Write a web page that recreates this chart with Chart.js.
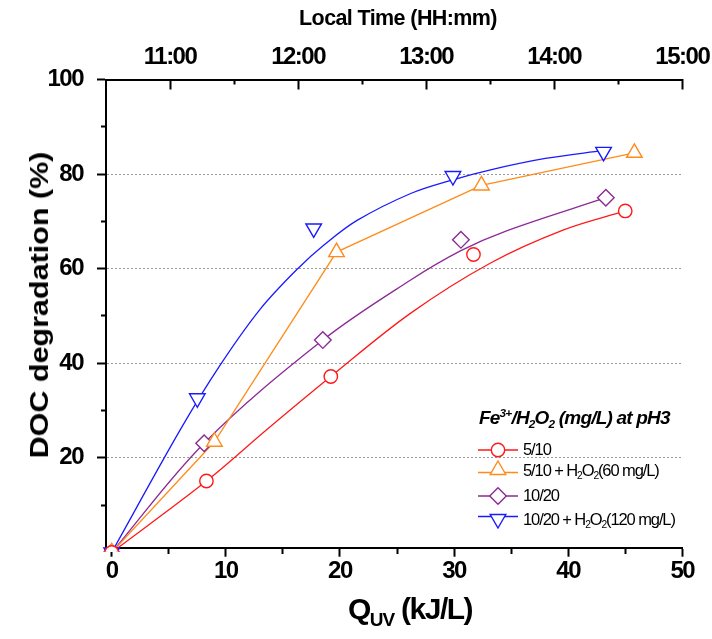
<!DOCTYPE html>
<html>
<head>
<meta charset="utf-8">
<script src="https://cdn.jsdelivr.net/npm/chart.js@4.4.1/dist/chart.umd.min.js"></script>
<style>
html,body{margin:0;padding:0;background:#fff;}
#wrap{position:relative;width:712px;height:639px;overflow:hidden;}
#c{position:absolute;left:0;top:0;}
.f{font-family:'Liberation Sans',Arial,sans-serif;color:#000;}
#ttitle{position:absolute;left:248px;width:300px;top:6px;text-align:center;font-size:21.5px;font-weight:bold;line-height:24px;white-space:nowrap;letter-spacing:-0.6px;}
#ytitle{position:absolute;left:38.5px;top:305px;transform:translate(-50%,-50%) rotate(-90deg) scaleY(0.87);font-size:30.5px;font-weight:bold;line-height:1;white-space:nowrap;}
#xtitle{position:absolute;left:300px;width:220px;top:589px;text-align:center;font-size:30px;font-weight:bold;line-height:40px;white-space:nowrap;letter-spacing:-1.5px;}
#xtitle sub{font-size:19px;vertical-align:-7px;line-height:0;letter-spacing:-1px;}
#legend{position:absolute;left:0;top:0;}
#ltitle{position:absolute;left:479px;top:406px;font-size:19px;font-weight:bold;font-style:italic;white-space:nowrap;line-height:24px;letter-spacing:-0.8px;}
#ltitle sup,#ltitle sub,.row sub{font-size:0.62em;line-height:0;}
#ltitle sup{vertical-align:7px;}
#ltitle sub{vertical-align:-4px;}
.row{position:absolute;left:476px;height:20px;display:flex;align-items:center;font-size:16.5px;white-space:nowrap;letter-spacing:-1.1px;}
.row svg{flex:none;margin-right:3px;}
.row sub{vertical-align:-3px;}
</style>
</head>
<body>
<div id="wrap">
<canvas id="c" width="712" height="639"></canvas>
<div id="ttitle" class="f">Local Time (HH:mm)</div>
<div id="ytitle" class="f">DOC degradation (%)</div>
<div id="xtitle" class="f">Q<sub>UV</sub> (kJ/L)</div>
<div id="legend" class="f"></div>
</div>
<script>
// ---- data ----
const seriesNames = ['5/10', '5/10 + H2O2(60 mg/L)', '10/20', '10/20 + H2O2(120 mg/L)'];
const qUv_5_10 = [0, 8.3, 19.2, 31.7, 45.0];
const doc_5_10 = [0, 15.1, 37.2, 63.0, 72.2];
const qUv_5_10_h2o2 = [0, 9.0, 19.7, 32.4, 45.8];
const doc_5_10_h2o2 = [0, 23.4, 63.5, 77.6, 84.5];
const qUv_10_20 = [0, 8.1, 18.5, 30.6, 43.3];
const doc_10_20 = [0, 23.1, 44.9, 66.1, 75.0];
const qUv_10_20_h2o2 = [0, 7.5, 17.7, 29.9, 43.1];
const doc_10_20_h2o2 = [0, 32.6, 68.5, 79.6, 84.7];
// smooth curves drawn through each series
const curveQ_5_10 = [0, 8.3, 13.6, 19.2, 26.2, 33.2, 39.6, 45.0];
const curveDoc_5_10 = [0, 15.1, 26.0, 37.2, 50.6, 61.2, 68.2, 72.2];
const curveQ_10_20 = [0, 8.1, 18.5, 26.2, 30.6, 34.6, 43.3];
const curveDoc_10_20 = [0, 23.1, 44.9, 57.6, 63.8, 68.0, 75.0];
const curveQ_10_20_h2o2 = [0, 6.0, 9.5, 13.0, 16.3, 18.6, 21.5, 26.2, 29.9, 33.2, 38.0, 43.1];
const curveDoc_10_20_h2o2 = [0, 25.9, 39.6, 51.4, 60.0, 65.0, 70.2, 75.9, 78.8, 80.9, 83.3, 85.0];

// ---- axis ticks ----
const xTicks = [0, 5, 10, 15, 20, 25, 30, 35, 40, 45, 50];
const xLabelTicks = [0, 10, 20, 30, 40, 50];
const yTicks = [10, 20, 30, 40, 50, 60, 70, 80, 90, 100];
const yLabelTicks = [20, 40, 60, 80, 100];
const yGridTicks = [20, 40, 60, 80];
const timeTicks = [11, 11.5, 12, 12.5, 13, 13.5, 14, 14.5, 15];
const timeLabelTicks = [11, 12, 13, 14, 15];

const colors = ['#ff1a1a', '#ff8c1a', '#8c2a96', '#1a1aff'];
const FONT = "'Liberation Sans',Arial,sans-serif";

const zip = (xs, ys) => xs.map((x, i) => ({x: x, y: ys[i]}));
const clip = {left: 12, top: 12, right: 12, bottom: 4};
const marker = (name, data, i, style, r, rot) => ({label: name, data, borderColor: colors[i], backgroundColor: '#fff',
  pointStyle: style, pointRadius: r, pointRotation: rot || 0, pointBorderWidth: 1.4, showLine: false, clip});
const curve = (name, data, i) => ({label: name, data, borderColor: colors[i], pointRadius: 0, borderWidth: 1.3,
  tension: 0.35, clip});

const datasets = [
  marker(seriesNames[0], zip(qUv_5_10, doc_5_10), 0, 'circle', 6.7),
  marker(seriesNames[1], zip(qUv_5_10_h2o2, doc_5_10_h2o2), 1, 'triangle', 9),
  marker(seriesNames[2], zip(qUv_10_20, doc_10_20), 2, 'rectRot', 8.3),
  marker(seriesNames[3], zip(qUv_10_20_h2o2, doc_10_20_h2o2), 3, 'triangle', 9, 180),
  curve(seriesNames[0], zip(curveQ_5_10, curveDoc_5_10), 0),
  {label: seriesNames[1], data: zip(qUv_5_10_h2o2, doc_5_10_h2o2), borderColor: colors[1], pointRadius: 0,
   borderWidth: 1.3, tension: 0, clip},
  curve(seriesNames[2], zip(curveQ_10_20, curveDoc_10_20), 2),
  curve(seriesNames[3], zip(curveQ_10_20_h2o2, curveDoc_10_20_h2o2), 3)
];

const hm = v => { const h = Math.floor(v); const m = Math.round((v - h) * 60); return h + ':' + String(m).padStart(2, '0'); };
const tickFont = {family: FONT, size: 24, weight: 'bold'};
const noPadH = s => { s.paddingLeft = 0; s.paddingRight = 0; };

const condense = {
  id: 'condense',
  beforeDraw: chart => { chart.ctx.letterSpacing = '-1.5px'; },
  afterDraw: chart => { chart.ctx.letterSpacing = '0px'; }
};

new Chart(document.getElementById('c'), {
  type: 'line',
  data: {datasets},
  plugins: [condense],
  options: {
    responsive: false, animation: false, devicePixelRatio: 1,
    layout: {padding: {left: 0, right: 29.7, top: 0, bottom: 0}},
    plugins: {legend: {display: false}, tooltip: {enabled: false}},
    scales: {
      x: {
        type: 'linear', position: 'bottom', min: -0.5, max: 50,
        afterBuildTicks: s => { s.ticks = xTicks.map(v => ({value: v})); },
        afterFit: s => { s.height = 91.3; noPadH(s); },
        ticks: {autoSkip: false, maxRotation: 0, padding: 0, color: '#000', font: tickFont,
                callback: v => xLabelTicks.includes(v) ? String(v) : ''},
        grid: {drawOnChartArea: false, tickLength: 9, tickWidth: 2, tickColor: '#000',
               tickBorderDash: c => (c.tick && xLabelTicks.includes(c.tick.value)) ? [] : [5, 100]},
        border: {display: true, color: '#000', width: 2}
      },
      x2: {
        type: 'linear', position: 'top', min: 10.5, max: 15,
        afterBuildTicks: s => { s.ticks = timeTicks.map(v => ({value: v})); },
        afterFit: s => { s.height = 79.5; noPadH(s); },
        ticks: {autoSkip: false, maxRotation: 0, padding: 18, color: '#000', font: tickFont,
                callback: v => timeLabelTicks.includes(v) ? hm(v) : ''},
        grid: {drawOnChartArea: false, tickLength: -10, tickWidth: 2, tickColor: '#000',
               tickBorderDash: c => (c.tick && timeLabelTicks.includes(c.tick.value)) ? [] : [0, 5, 5, 100]},
        border: {display: true, color: '#000', width: 2}
      },
      y: {
        type: 'linear', position: 'left', min: 1, max: 100,
        afterBuildTicks: s => { s.ticks = yTicks.map(v => ({value: v})); },
        afterFit: s => { s.width = 106; s.paddingTop = 0; s.paddingBottom = 0; },
        ticks: {autoSkip: false, padding: 14, color: '#000', font: tickFont,
                callback: v => yLabelTicks.includes(v) ? String(v) : ''},
        grid: {drawOnChartArea: true, lineWidth: 1,
               color: c => (c.tick && yGridTicks.includes(c.tick.value)) ? '#9a9a9a' : 'rgba(0,0,0,0)',
               tickLength: 9, tickWidth: 2, tickColor: '#000',
               tickBorderDash: c => (c.tick && yLabelTicks.includes(c.tick.value)) ? [] : [0, 4, 5, 100]},
        border: {display: true, color: '#000', width: 2, dash: [2, 2]}
      }
    }
  }
});

// ---- legend (HTML, with sub/superscripts) ----
const legendRows = [
  {name: '5/10', y: 449.5},
  {name: '5/10 + H<sub>2</sub>O<sub>2</sub>(60 mg/L)', y: 470},
  {name: '10/20', y: 495.5},
  {name: '10/20 + H<sub>2</sub>O<sub>2</sub>(120 mg/L)', y: 519}
];
function markerSvg(i) {
  const c = colors[i];
  let m = '';
  if (i === 0) m = `<circle cx="22" cy="10" r="6.7" fill="#fff" stroke="${c}" stroke-width="1.4"/>`;
  if (i === 1) m = `<polygon points="22,1 29.8,14.5 14.2,14.5" fill="#fff" stroke="${c}" stroke-width="1.4"/>`;
  if (i === 2) m = `<polygon points="22,1.7 30.3,10 22,18.3 13.7,10" fill="#fff" stroke="${c}" stroke-width="1.4"/>`;
  if (i === 3) m = `<polygon points="22,19 29.8,5.5 14.2,5.5" fill="#fff" stroke="${c}" stroke-width="1.4"/>`;
  const ly = (i === 1) ? 12.5 : (i === 3 ? 7.5 : 10);
  return `<svg width="44" height="20" viewBox="0 0 44 20"><line x1="2" y1="${ly}" x2="42" y2="${ly}" stroke="${c}" stroke-width="1.3"/>${m}</svg>`;
}
let html = '<div id="ltitle">Fe<sup>3+</sup>/H<sub>2</sub>O<sub>2</sub> (mg/L) at pH3</div>';
legendRows.forEach((r, i) => {
  html += `<div class="row" style="top:${r.y - 10}px">${markerSvg(i)}<span>${r.name}</span></div>`;
});
document.getElementById('legend').innerHTML = html;
</script>
</body>
</html>
